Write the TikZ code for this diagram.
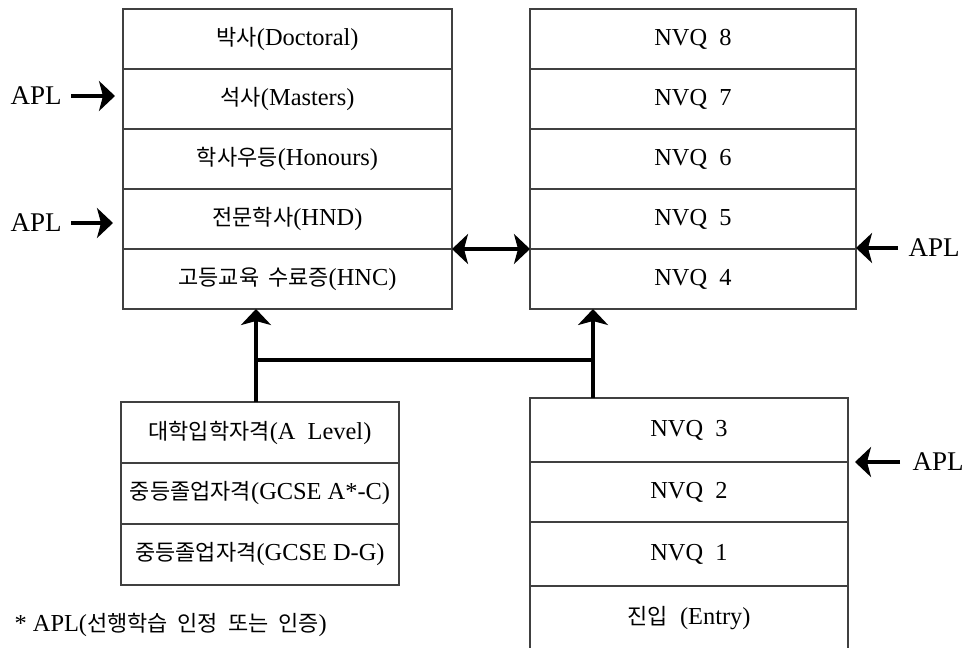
\documentclass[tikz,border=0pt]{standalone}
\usepackage{fontspec}
\setmainfont{Liberation Serif}
\newfontfamily\kr[Scale=0.9]{Noto Sans CJK KR}
\usetikzlibrary{arrows.meta, positioning}
\tikzset{
  every picture/.style={font=\fontsize{12.2}{15}\selectfont, line width=0.6pt},
  cell/.style={draw=black!75, minimum height=#1, inner sep=0pt, outer sep=0pt, anchor=north},
  cell/.default=30pt,
  arrow/.style={-{Stealth[length=8pt, width=15pt, inset=2pt]}, line width=1.9pt},
  twoway/.style={{Stealth[length=8pt, width=15pt, inset=2pt]}-{Stealth[length=8pt, width=15pt, inset=2pt]}, line width=1.9pt},
  link/.style={line width=1.9pt},
  apl/.style={inner sep=0pt, font=\fontsize{13.5}{15}\selectfont},
}
\begin{document}
\begin{tikzpicture}[x=0.5pt, y=-0.5pt, hi/.style={cell, minimum width=164.5pt}, nv/.style={cell, minimum width=163pt}]
  \useasboundingbox (0,0) rectangle (965,648);
  \clip (0,0) rectangle (965,648);
  % higher education
  \node[hi] (phd) at (287.5,9) {{\kr 박사}(Doctoral)};
  \node[hi, below=0pt of phd] (ma) {{\kr 석사}(Masters)};
  \node[hi, below=0pt of ma] (hons) {{\kr 학사우등}(Honours)};
  \node[hi, below=0pt of hons] (hnd) {{\kr 전문학사}(HND)};
  \node[hi, below=0pt of hnd] (hnc) {{\kr 고등교육\hspace{0.4em}수료증}(HNC)};
  % NVQ upper levels
  \node[nv] (nvq8) at (693,9) {NVQ\ \ 8};
  \node[nv, below=0pt of nvq8] (nvq7) {NVQ\ \ 7};
  \node[nv, below=0pt of nvq7] (nvq6) {NVQ\ \ 6};
  \node[nv, below=0pt of nvq6] (nvq5) {NVQ\ \ 5};
  \node[nv, below=0pt of nvq5] (nvq4) {NVQ\ \ 4};
  % school qualifications
  \node[cell=30.5pt, minimum width=139pt] (alevel) at (260,402) {{\kr 대학입학자격}(A\ \ Level)};
  \node[cell=30.5pt, minimum width=139pt, below=0pt of alevel] (gcsea) {{\kr 중등졸업자격}(GCSE\ A*-C)};
  \node[cell=30.5pt, minimum width=139pt, below=0pt of gcsea] (gcsed) {{\kr 중등졸업자격}(GCSE\ D-G)};
  % NVQ lower levels
  \node[cell=32pt, minimum width=159pt] (nvq3) at (689,398) {NVQ\ \ 3};
  \node[cell=30pt, minimum width=159pt, below=0pt of nvq3] (nvq2) {NVQ\ \ 2};
  \node[cell=32pt, minimum width=159pt, below=0pt of nvq2] (nvq1) {NVQ\ \ 1};
  \node[cell=32pt, minimum width=159pt, below=0pt of nvq1] (entry) {{\kr 진입}\ \ (Entry)};
  % APL labels
  \node[apl, anchor=west] (apl1) at (10,96) {APL};
  \node[apl, anchor=west] (apl2) at (10,223) {APL};
  \node[apl, anchor=west] (apl3) at (908,248) {APL};
  \node[apl, anchor=west] (apl4) at (912,462) {APL};
  \draw[arrow, shorten >=4pt] (apl1.east) ++(4.5pt,0) -- (apl1.east -| ma.west);
  \draw[arrow, shorten >=5pt] (apl2.east) ++(4.5pt,0) -- (apl2.east -| hnd.west);
  \draw[arrow] (apl3.west) ++(-5pt,0) -- (apl3.west -| nvq5.east);
  \draw[arrow, shorten >=3.5pt] (apl4.west) ++(-6pt,0) -- (apl4.west -| nvq3.east);
  \draw[twoway] (hnd.south east) -- (nvq5.south west);
  % progression
  \coordinate (jl) at (256,360);
  \coordinate (jr) at (593,360);
  \draw[link] (alevel.north -| jl) -- (jl) -- (jr) -- (nvq3.north -| jr);
  \draw[arrow] (jl) -- (jl |- hnc.south);
  \draw[arrow] (jr) -- (jr |- nvq4.south);
  \node[anchor=west, inner sep=0pt] (note) at (14,625) {*\ APL({\kr 선행학습\ \ 인정\ \ 또는\ \ 인증})};
\end{tikzpicture}
\end{document}
